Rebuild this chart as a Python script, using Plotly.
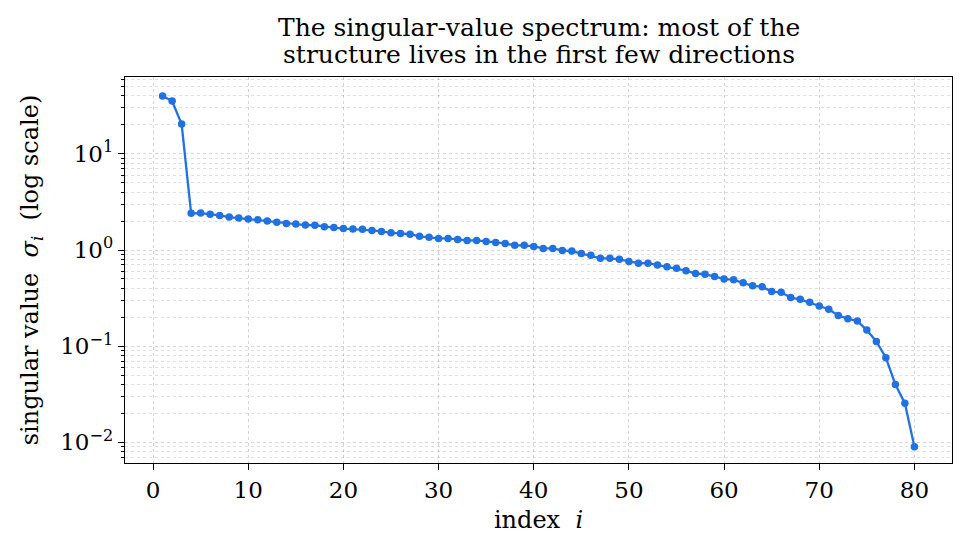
import plotly.graph_objects as go
import numpy as np

index = list(range(1, 81))
sigma = [
    40.0, 35.4, 20.4, 2.41, 2.42, 2.36, 2.29, 2.20, 2.15, 2.10,
    2.06, 2.00, 1.94, 1.89, 1.86, 1.82, 1.81, 1.75, 1.71, 1.67,
    1.65, 1.64, 1.60, 1.56, 1.51, 1.49, 1.46, 1.39, 1.36, 1.32,
    1.32, 1.29, 1.26, 1.26, 1.23, 1.20, 1.17, 1.12, 1.12, 1.09,
    1.04, 1.04, 0.99, 0.976, 0.92, 0.88, 0.82, 0.82, 0.80, 0.76,
    0.73, 0.73, 0.70, 0.67, 0.645, 0.61, 0.57, 0.56, 0.53, 0.50,
    0.49, 0.457, 0.425, 0.416, 0.37, 0.363, 0.32, 0.307, 0.286, 0.262,
    0.242, 0.209, 0.193, 0.183, 0.147, 0.112, 0.076, 0.040, 0.0255, 0.0090,
]
title_lines = ["The singular-value spectrum: most of the",
               "structure lives in the first few directions"]
x_ticks = [0, 10, 20, 30, 40, 50, 60, 70, 80]
y_ticks = [0.01, 0.1, 1, 10]
y_ticktext = ["10<sup>−2</sup>", "10<sup>−1</sup>", "10<sup>0</sup>", "10<sup>1</sup>"]

minor_vals = [m * 10.0 ** e for e in range(-3, 2) for m in range(2, 10)]

FONT = "DejaVu Serif"
BLUE = "#2271e0"

fig = go.Figure()
fig.add_trace(go.Scatter(
    x=index, y=sigma, mode="lines+markers",
    line=dict(color=BLUE, width=2.3),
    marker=dict(color=BLUE, size=7.5),
    showlegend=False,
))

for txt, yp in zip(title_lines, [1.127, 1.057]):
    fig.add_annotation(text=txt, x=0.5, xref="paper", y=yp, yref="paper",
                       xanchor="center", yanchor="middle", showarrow=False,
                       font=dict(family=FONT, size=25, color="black"))

grid = "rgba(0,0,0,0.17)"
fig.update_layout(
    width=967, height=550,
    margin=dict(l=125, r=15, t=77, b=87),
    paper_bgcolor="white", plot_bgcolor="white",
    font=dict(family=FONT, size=23, color="black"),
    xaxis=dict(
        range=[-2.95, 83.95],
        tickvals=x_ticks,
        ticks="outside", ticklen=6, tickwidth=1.2, tickcolor="black",
        showline=True, linecolor="black", linewidth=1.3, mirror=True,
        showgrid=True, gridcolor=grid, griddash="dot", gridwidth=0.8,
        zeroline=False,
        tickfont=dict(size=23),
        title=dict(text="index  <i>i</i>", font=dict(size=24), standoff=9),
    ),
    yaxis=dict(
        type="log",
        range=[np.log10(0.0061), np.log10(63)],
        tickvals=y_ticks, ticktext=y_ticktext,
        ticks="outside", ticklen=6, tickwidth=1.2, tickcolor="black",
        showline=True, linecolor="black", linewidth=1.3, mirror=True,
        showgrid=True, gridcolor=grid, griddash="dot", gridwidth=0.8,
        zeroline=False,
        tickfont=dict(size=23),
        title=dict(text="singular value  <i>σ<sub>i</sub></i>  (log scale)", font=dict(size=24), standoff=14),
        minor=dict(
            tickmode="array", tickvals=minor_vals,
            ticks="outside", ticklen=3, tickwidth=1, tickcolor="black",
            showgrid=True, gridcolor="rgba(0,0,0,0.12)", griddash="dot", gridwidth=0.7,
        ),
    ),
)

fig.write_html("out.html")
